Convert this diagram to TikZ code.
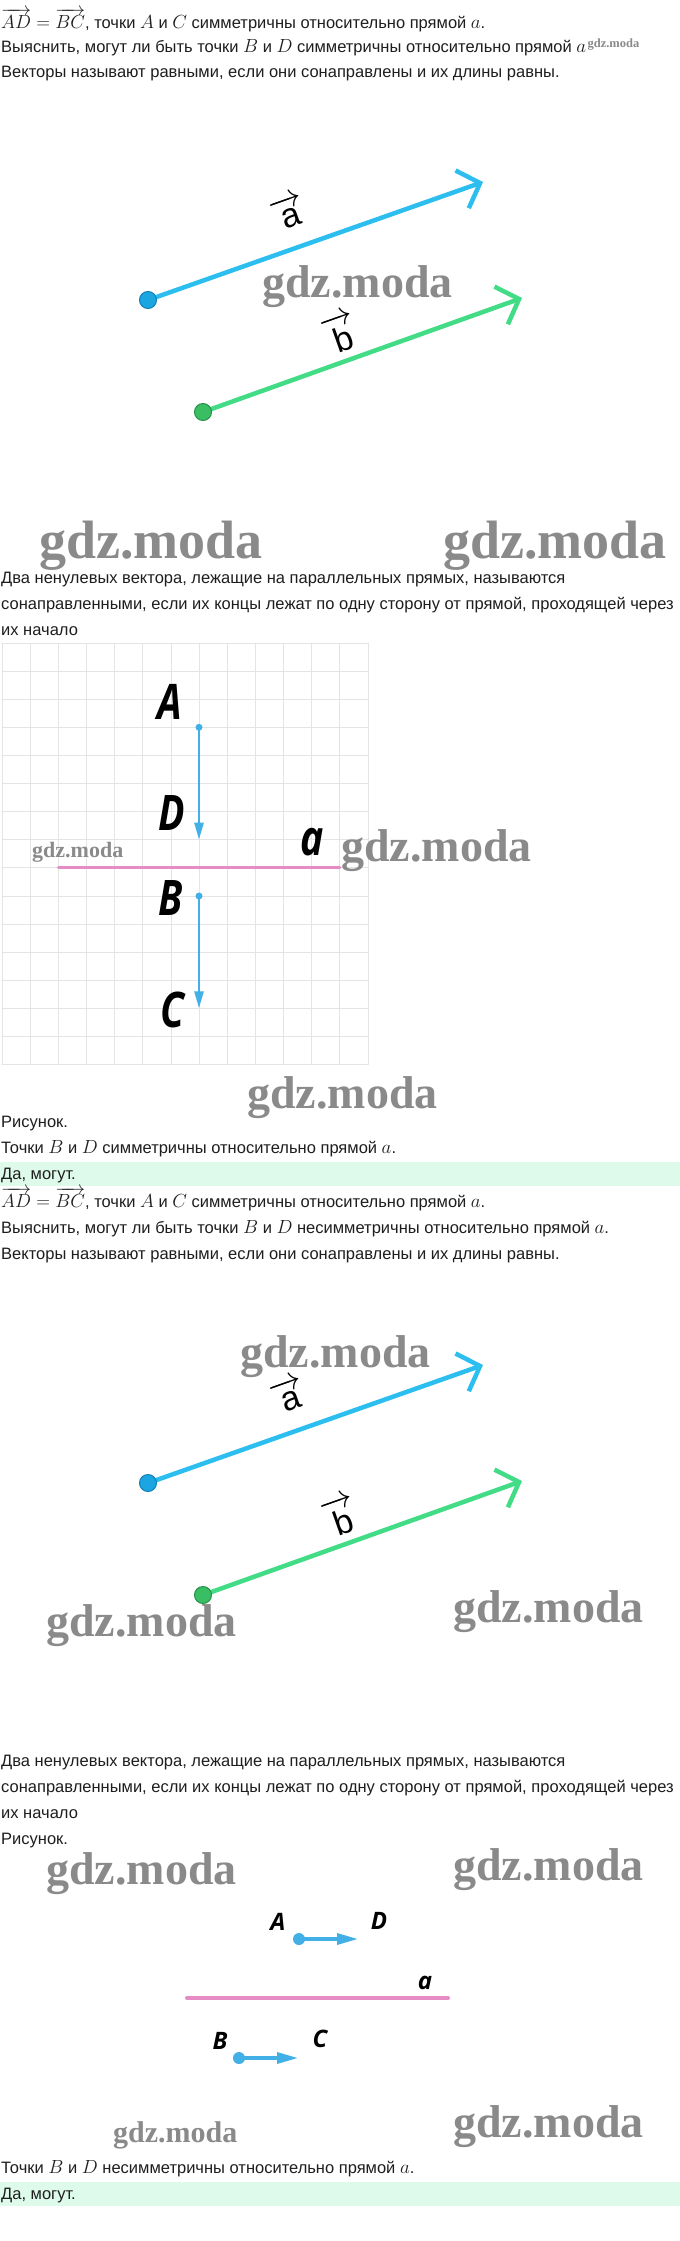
\RequirePackage{fix-cm}
\documentclass[tikz,border=0pt]{standalone}
\usepackage{amsmath}
\usepackage[no-math]{fontspec}
\setmainfont{Liberation Sans}
\newfontfamily\wmfont{Liberation Serif}
\newfontfamily\lblfont{Open Sans}
\newfontfamily\lblnarrow[FakeStretch=0.8]{Open Sans}
\usetikzlibrary{arrows.meta}
\definecolor{txtcol}{RGB}{30,30,30}
\definecolor{wmcol}{RGB}{138,138,138}
\definecolor{bandcol}{RGB}{222,250,234}
\definecolor{vecblue}{RGB}{45,190,240}
\definecolor{dotblue}{RGB}{27,166,226}
\definecolor{dotblueedge}{RGB}{20,128,182}
\definecolor{vecgreen}{RGB}{66,220,134}
\definecolor{dotgreen}{RGB}{58,190,100}
\definecolor{dotgreenedge}{RGB}{38,145,72}
\definecolor{gridcol}{RGB}{228,228,228}
\definecolor{axispink}{RGB}{230,140,196}
\definecolor{segblue}{RGB}{66,176,230}
\newcommand\mth[1]{{\fontsize{19}{20}\selectfont$#1$}}

\begin{document}
\begin{tikzpicture}[line cap=round,line join=round,x=1pt,y=-1pt,
	txt/.style={anchor=base west,inner sep=0pt,text=txtcol,font=\fontsize{16.5}{19}\selectfont},
	wm/.style={anchor=base west,inner sep=0pt,text=wmcol,font=\wmfont\bfseries\fontsize{#1}{#1}\selectfont},
	vec/.style={draw=#1,line width=4.5pt,-{Straight Barb[length=19pt,width=40pt]}},
	veclbl/.style={inner sep=0pt,text=black,font=\fontsize{34}{34}\selectfont,rotate=19.5},
	vdot/.style={circle,inner sep=0pt,minimum size=17pt,line width=1pt},
	gridline/.style={draw=gridcol,line width=0.8pt},
	axisline/.style={draw=axispink,line width=#1},
	gridvec/.style={draw=segblue,fill=segblue,line width=2.6pt,-{Triangle[length=17pt,width=9pt]}},
	segvec/.style={draw=segblue,fill=segblue,line width=3.3pt,-{Triangle[length=21pt,width=11pt]}},
	sdot/.style={circle,inner sep=0pt,fill=segblue,minimum size=#1},
	bigname/.style={inner sep=0pt,text=black,font=\lblnarrow\bfseries\itshape\fontsize{49}{49}\selectfont},
	smallname/.style={inner sep=0pt,text=black,font=\lblfont\bfseries\itshape\fontsize{24}{24}\selectfont}]
	\useasboundingbox (0,0) rectangle (680,2241);
	\fill[white] (0,0) rectangle (680,2241);
	\fill[bandcol] (0,1162) rectangle (680,1186);
	\fill[bandcol] (0,2182) rectangle (680,2206);

	\node[txt] (l1) at (1,28) {\mth{\overrightarrow{AD}=\overrightarrow{BC}}, точки \mth{A} и \mth{C} симметричны относительно прямой \mth{a}.};
	\node[txt] (l2) at (1,52) {Выяснить, могут ли быть точки \mth{B} и \mth{D} симметричны относительно прямой \mth{a}};
	\node[wm=12.5] (wm1) at ([xshift=1pt,yshift=5pt]l2.base east) {gdz.moda};
	\node[txt] (l3) at (1,77) {Векторы называют равными, если они сонаправлены и их длины равны.};

	\coordinate (a1s) at (148,300);
	\coordinate (a1e) at (483,182);
	\coordinate (b1s) at (203,412);
	\coordinate (b1e) at (522,298);
	\draw[vec=vecblue] (a1s) -- (a1e);
	\draw[vec=vecgreen] (b1s) -- (b1e);
	\node[vdot,fill=dotblue,draw=dotblueedge] (a1dot) at (a1s) {};
	\node[vdot,fill=dotgreen,draw=dotgreenedge] (b1dot) at (b1s) {};
	\node[veclbl] (a1lbl) at (289,212) {$\overrightarrow{\text{a}}$};
	\node[veclbl] (b1lbl) at (341,333) {$\overrightarrow{\text{b}}$};
	\node[wm=46] (wm2) at (262,297) {gdz.moda};

	\node[wm=54] (wm3) at (39,558) {gdz.moda};
	\node[wm=54] (wm4) at (443,558) {gdz.moda};
	\node[txt] (l4) at (1,583) {Два ненулевых вектора, лежащие на параллельных прямых, называются};
	\node[txt] (l5) at (1,609) {сонаправленными, если их концы лежат по одну сторону от прямой, проходящей через};
	\node[txt] (l6) at (1,635) {их начало};

	\foreach \k in {0,...,13}
		\draw[gridline] (2+28.15*\k,643) -- (2+28.15*\k,1064.5);
	\foreach \k in {0,...,15}
		\draw[gridline] (2,643+28.1*\k) -- (368,643+28.1*\k);
	\coordinate (gA) at (199,727.3);
	\coordinate (gD) at (199,839.7);
	\coordinate (gB) at (199,896);
	\coordinate (gC) at (199,1008.3);
	\coordinate (ga1) at (58.3,867.8);
	\coordinate (ga2) at (339.8,867.8);
	\draw[axisline=3pt] (ga1) -- (ga2);
	\draw[gridvec] (gA) -- (gD);
	\draw[gridvec] (gB) -- (gC);
	\node[sdot=7pt] (gAdot) at (gA) {};
	\node[sdot=7pt] (gBdot) at (gB) {};
	\node[bigname] (gAl) at (170,702) {A};
	\node[bigname] (gDl) at (172,813) {D};
	\node[bigname] (gBl) at (171,898) {B};
	\node[bigname] (gCl) at (172,1010) {C};
	\node[bigname] (gal) at (312,842) {a};
	\node[wm=22] (wm5) at (32,857) {gdz.moda};
	\node[wm=46] (wm6) at (341,861) {gdz.moda};
	\node[wm=46] (wm7) at (247,1108) {gdz.moda};

	\node[txt] (l7) at (1,1127) {Рисунок.};
	\node[txt] (l8) at (1,1153) {Точки \mth{B} и \mth{D} симметричны относительно прямой \mth{a}.};
	\node[txt] (l9) at (1,1179) {Да, могут.};
	\node[txt] (l10) at (1,1207) {\mth{\overrightarrow{AD}=\overrightarrow{BC}}, точки \mth{A} и \mth{C} симметричны относительно прямой \mth{a}.};
	\node[txt] (l11) at (1,1233) {Выяснить, могут ли быть точки \mth{B} и \mth{D} несимметричны относительно прямой \mth{a}.};
	\node[txt] (l12) at (1,1259) {Векторы называют равными, если они сонаправлены и их длины равны.};

	\coordinate (a2s) at (148,1483);
	\coordinate (a2e) at (483,1365);
	\coordinate (b2s) at (203,1595);
	\coordinate (b2e) at (522,1481);
	\draw[vec=vecblue] (a2s) -- (a2e);
	\draw[vec=vecgreen] (b2s) -- (b2e);
	\node[vdot,fill=dotblue,draw=dotblueedge] (a2dot) at (a2s) {};
	\node[vdot,fill=dotgreen,draw=dotgreenedge] (b2dot) at (b2s) {};
	\node[veclbl] (a2lbl) at (289,1395) {$\overrightarrow{\text{a}}$};
	\node[veclbl] (b2lbl) at (341,1516) {$\overrightarrow{\text{b}}$};
	\node[wm=46] (wm8) at (240,1367) {gdz.moda};
	\node[wm=46] (wm9) at (46,1636) {gdz.moda};
	\node[wm=46] (wm10) at (453,1622) {gdz.moda};

	\node[txt] (l13) at (1,1766) {Два ненулевых вектора, лежащие на параллельных прямых, называются};
	\node[txt] (l14) at (1,1792) {сонаправленными, если их концы лежат по одну сторону от прямой, проходящей через};
	\node[txt] (l15) at (1,1818) {их начало};
	\node[txt] (l16) at (1,1844) {Рисунок.};
	\node[wm=46] (wm11) at (46,1884) {gdz.moda};
	\node[wm=46] (wm12) at (453,1880) {gdz.moda};

	\coordinate (hA) at (299,1939);
	\coordinate (hD) at (358,1939);
	\coordinate (hB) at (239,2058);
	\coordinate (hC) at (298,2058);
	\coordinate (ha1) at (187,1998);
	\coordinate (ha2) at (448,1998);
	\draw[axisline=4pt] (ha1) -- (ha2);
	\draw[segvec] (hA) -- (hD);
	\draw[segvec] (hB) -- (hC);
	\node[sdot=12pt] (hAdot) at (hA) {};
	\node[sdot=12pt] (hBdot) at (hB) {};
	\node[smallname] (hAl) at (278,1922) {A};
	\node[smallname] (hDl) at (379,1921) {D};
	\node[smallname] (hal) at (425,1983) {a};
	\node[smallname] (hBl) at (220,2041) {B};
	\node[smallname] (hCl) at (320,2039) {C};
	\node[wm=30] (wm13) at (113,2142) {gdz.moda};
	\node[wm=46] (wm14) at (453,2137) {gdz.moda};

	\node[txt] (l17) at (1,2173) {Точки \mth{B} и \mth{D} несимметричны относительно прямой \mth{a}.};
	\node[txt] (l18) at (1,2199) {Да, могут.};
\end{tikzpicture}
\end{document}
